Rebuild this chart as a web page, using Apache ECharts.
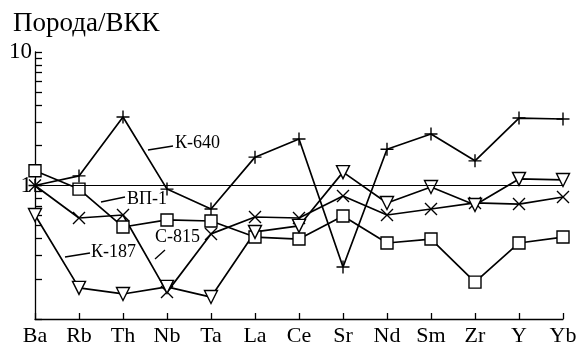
<!DOCTYPE html>
<html>
<head>
<meta charset="utf-8">
<script src="https://cdn.jsdelivr.net/npm/echarts@6/dist/echarts.min.js"></script>
<style>html,body{margin:0;padding:0;background:#fff}#c{width:581px;height:349px}</style>
</head>
<body>
<div id="c"></div>
<script>
const categories = ['Ba','Rb','Th','Nb','Ta','La','Ce','Sr','Nd','Sm','Zr','Y','Yb'];
const k640 = [1.0, 1.18, 3.26, 0.94, 0.667, 1.63, 2.23, 0.245, 1.87, 2.43, 1.53, 3.2, 3.15];
const vp1  = [1.29, 0.94, 0.489, 0.552, 0.542, 0.411, 0.397, 0.591, 0.371, 0.397, 0.189, 0.371, 0.411];
const c815 = [1.0, 0.571, 0.601, 0.159, 0.434, 0.581, 0.571, 0.834, 0.601, 0.667, 0.74, 0.726, 0.82];
const k187 = [0.601, 0.171, 0.154, 0.174, 0.146, 0.449, 0.498, 1.26, 0.74, 0.975, 0.714, 1.12, 1.10];
const yTickLabels = {10: '10', 1: '1'};

const FONT = '"Liberation Serif", "DejaVu Serif", serif';
const chart = echarts.init(document.getElementById('c'));

function mk(name, data, symbol, size, fill, extra) {
  return Object.assign({
    name: name, type: 'line', data: data,
    symbol: symbol, symbolSize: size,
    lineStyle: {color: '#000', width: 1.7},
    itemStyle: {color: fill, borderColor: '#000', borderWidth: 1.4},
    emphasis: {disabled: true},
    z: 3
  }, extra || {});
}

chart.setOption({
  animation: false,
  backgroundColor: '#fff',
  title: {
    text: 'Порода/ВКК', left: 8, top: 5,
    textStyle: {fontFamily: FONT, fontSize: 27, fontWeight: 'normal', color: '#000'}
  },
  grid: {left: 35, right: 18, top: 52, bottom: 30},
  xAxis: {
    type: 'category', data: categories, boundaryGap: false,
    axisLine: {lineStyle: {color: '#000', width: 1.3}},
    axisTick: {show: true, inside: true, length: 6, alignWithLabel: true, lineStyle: {color: '#000', width: 1.3}},
    axisLabel: {fontFamily: FONT, fontSize: 22, color: '#000', margin: 6, interval: 0},
    splitLine: {show: false}
  },
  yAxis: {
    type: 'log', logBase: 10, min: 0.1, max: 10,
    axisLine: {show: true, lineStyle: {color: '#000', width: 1.3}},
    axisTick: {show: true, inside: true, length: 7, lineStyle: {color: '#000', width: 1.3}},
    minorTick: {show: true, splitNumber: 9, length: 7, lineStyle: {color: '#000', width: 1.3}},
    axisLabel: {
      fontFamily: FONT, fontSize: 23, color: '#000', margin: 3,
      formatter: function (v) { return yTickLabels[Math.round(v * 1000) / 1000] || ''; }
    },
    splitLine: {show: false}
  },
  series: [
    mk('К-640', k640, 'path://M5,0L5,10M0,5L10,5', 13, '#000', {
      markLine: {
        silent: true, symbol: 'none', label: {show: false},
        lineStyle: {color: '#000', width: 1.2, type: 'solid'},
        data: [{yAxis: 1}]
      }
    }),
    mk('ВП-1', vp1, 'rect', 12, '#fff'),
    mk('С-815', c815, 'path://M0,0L10,10M10,0L0,10', 12, '#000'),
    mk('К-187', k187, 'triangle', 13, '#fff', {symbolRotate: 180})
  ],
  graphic: [
    {type: 'line', shape: {x1: 148, y1: 150, x2: 173, y2: 146}, style: {stroke: '#000', lineWidth: 1.3}},
    {type: 'text', left: 175, top: 134, style: {text: 'К-640', font: '18px ' + FONT, fill: '#000'}},
    {type: 'line', shape: {x1: 101, y1: 202, x2: 125, y2: 197}, style: {stroke: '#000', lineWidth: 1.3}},
    {type: 'text', left: 127, top: 190, style: {text: 'ВП-1', font: '18px ' + FONT, fill: '#000'}},
    {type: 'line', shape: {x1: 155, y1: 259, x2: 165, y2: 250}, style: {stroke: '#000', lineWidth: 1.3}},
    {type: 'text', left: 155, top: 228, style: {text: 'С-815', font: '18px ' + FONT, fill: '#000'}},
    {type: 'line', shape: {x1: 65, y1: 257, x2: 90, y2: 253}, style: {stroke: '#000', lineWidth: 1.3}},
    {type: 'text', left: 91, top: 243, style: {text: 'К-187', font: '18px ' + FONT, fill: '#000'}}
  ]
});
</script>
</body>
</html>
